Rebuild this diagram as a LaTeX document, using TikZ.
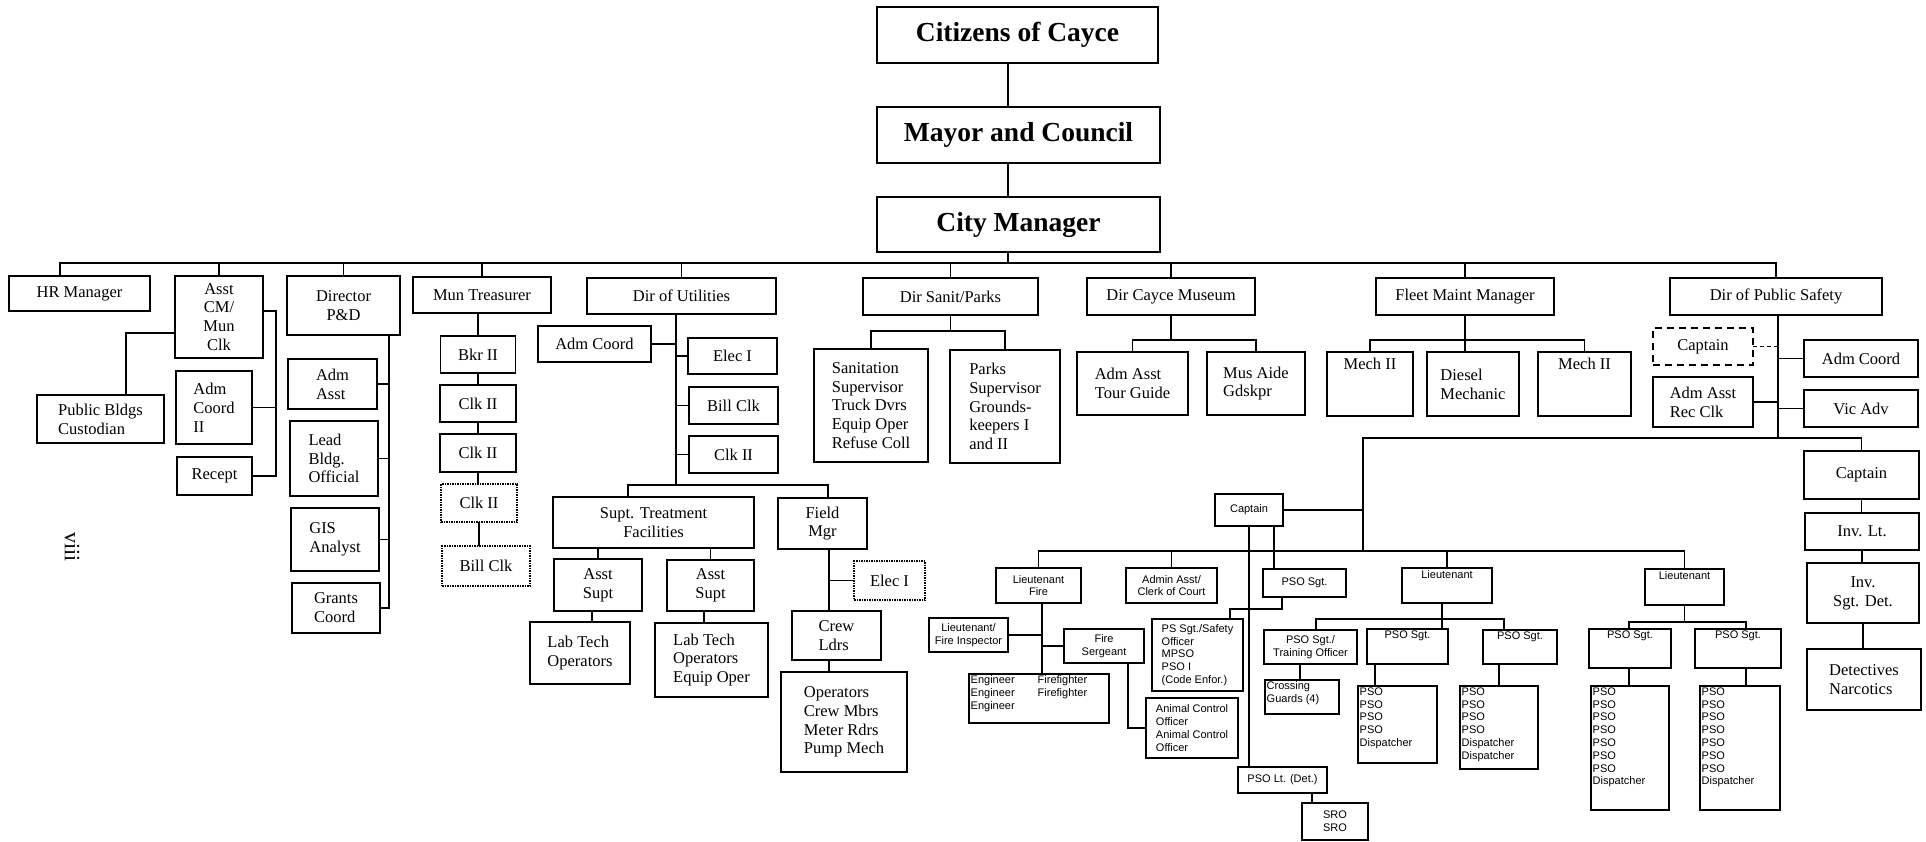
\documentclass[tikz,border=0pt]{standalone}
\usepackage{fontspec}
\setmainfont{Liberation Serif}
\newfontfamily\arialfont{Liberation Sans}
\newcommand\boxfont{\fontsize{16.5}{18.8}\selectfont}
\newcommand\titlefont{\fontsize{27.5}{31}\selectfont\bfseries}
\newcommand\policefont{\arialfont\fontsize{11}{12.8}\selectfont}
\tikzset{
  box/.style 2 args={draw, line width=1.5pt, outer sep=0pt, inner sep=2pt,
    align=center, minimum width=#1pt, minimum height=#2pt},
  dotbox/.style 2 args={box={#1}{#2}, densely dotted},
  dashbox/.style 2 args={box={#1}{#2}, dash pattern=on 7pt off 5pt},
  toptxt/.style={label={[anchor=north, align=center, inner sep=2pt]north:{#1}}},
  toptxtb/.style={label={[anchor=north, align=center, inner sep=6pt]north:{#1}}},
  topleft/.style={label={[anchor=north west, align=left, inner sep=1.5pt]north west:{#1}}},
  link/.style={line width=1.5pt},
}
\begin{document}
\begin{tikzpicture}[x=1pt, y=-1pt, font=\boxfont]
  \fill[white] (0,0) rectangle (1926,842);
  % top of the chart
  \node[box={281}{56}, font=\titlefont] (cit) at (1017.5,35) {Citizens of Cayce};
  \node[box={283}{56}, font=\titlefont] (may) at (1018.5,135) {Mayor and Council};
  \node[box={283}{55}, font=\titlefont] (cm) at (1018.5,224.5) {City Manager};
  % department heads
  \node[box={141}{35}] (hr) at (79.5,293.5) {HR Manager};
  \node[box={88}{82}] (acm) at (219,317) {Asst\\CM/\\Mun\\Clk};
  \node[box={113}{59}] (dpd) at (343.5,305.5) {Director\\P\&D};
  \node[box={138}{36}] (mt) at (482,295) {Mun Treasurer};
  \node[box={189}{36}] (du) at (681.5,296) {Dir of Utilities};
  \node[box={175}{37}] (dsp) at (950.5,296.5) {Dir Sanit/Parks};
  \node[box={168}{37}] (dcm) at (1171,296.5) {Dir Cayce Museum};
  \node[box={178}{37}] (fmm) at (1465,296.5) {Fleet Maint Manager};
  \node[box={212}{37}] (dps) at (1776,296.5) {Dir of Public Safety};
  % asst cm and p&d
  \node[box={127}{48}, align=left] (pbc) at (100.5,419) {Public Bldgs\\Custodian};
  \node[box={76}{73}, align=left] (acii) at (214,407.5) {Adm\\Coord\\II};
  \node[box={75}{38}] (rec) at (214.5,476) {Recept};
  \node[box={89}{50}, align=left] (adma) at (332.5,384) {Adm\\Asst};
  \node[box={88}{75}, align=left] (lbo) at (334,458.5) {Lead\\Bldg.\\Official};
  \node[box={88}{63}, align=left] (gis) at (335,539.5) {GIS\\Analyst};
  \node[box={88}{50}, align=left] (gc) at (336,608) {Grants\\Coord};
  % treasurer
  \node[box={75}{37}] (bk) at (478,354.5) {Bkr II};
  \node[box={76}{37}] (c1) at (478,403.5) {Clk II};
  \node[box={76}{38}] (c2) at (478,453) {Clk II};
  \node[dotbox={76}{38}] (c3) at (479,503) {Clk II};
  \node[dotbox={88}{40}] (bc) at (486,566) {Bill Clk};
  % utilities
  \node[box={113}{36}] (uac) at (594.5,344) {Adm Coord};
  \node[box={89}{36}] (ue1) at (732.5,356) {Elec I};
  \node[box={89}{37}] (ubc) at (733.5,405.5) {Bill Clk};
  \node[box={89}{37}] (uc2) at (733.5,454.5) {Clk II};
  \node[box={201}{51}] (stf) at (653.5,522.5) {Supt. Treatment\\Facilities};
  \node[box={89}{51}] (fm) at (822.5,523.5) {Field\\Mgr};
  \node[box={88}{52}] (as1) at (598,585) {Asst\\Supt};
  \node[box={87}{51}] (as2) at (710.5,585.5) {Asst\\Supt};
  \node[box={100}{62}, align=left] (ltop1) at (580,653) {Lab Tech\\Operators};
  \node[box={113}{74}, align=left] (ltop2) at (711.5,660) {Lab Tech\\Operators\\Equip Oper};
  \node[dotbox={71}{39}] (fe1) at (889.5,580.5) {Elec I};
  \node[box={89}{49}, align=left] (cl) at (836.5,635.5) {Crew\\Ldrs};
  \node[box={126}{100}, align=left] (ops) at (844,722) {Operators\\Crew Mbrs\\Meter Rdrs\\Pump Mech};
  % sanitation, museum, fleet
  \node[box={114}{113}, align=left] (san) at (871,405.5) {Sanitation\\Supervisor\\Truck Dvrs\\Equip Oper\\Refuse Coll};
  \node[box={110}{113}, align=left] (prk) at (1005,406.5) {Parks\\Supervisor\\Grounds-\\keepers I\\and II};
  \node[box={111}{63}, align=left] (aatg) at (1132.5,383.5) {Adm Asst\\Tour Guide};
  \node[box={98}{63}, align=left] (mag) at (1256,383.5) {Mus Aide\\Gdskpr};
  \node[box={86}{64}, toptxtb={Mech II}] (m1) at (1370,384) {};
  \node[box={92}{64}, align=left] (dm) at (1473,384) {Diesel\\Mechanic};
  \node[box={93}{64}, toptxtb={Mech II}] (m2) at (1584.5,384) {};
  % public safety
  \node[dashbox={100}{37}] (cpd) at (1703,346.5) {Captain};
  \node[box={114}{37}] (aac) at (1861,358.5) {Adm Coord};
  \node[box={100}{50}, align=left] (aarc) at (1703,402) {Adm Asst\\Rec Clk};
  \node[box={114}{37}] (va) at (1861,408.5) {Vic Adv};
  \node[box={115}{48}] (cpr) at (1861.5,475) {Captain};
  \node[box={114}{37}] (ilt) at (1862,531.5) {Inv. Lt.};
  \node[box={112}{60}] (isd) at (1863,593) {Inv.\\Sgt. Det.};
  \node[box={114}{61}, align=left] (det) at (1864,679.5) {Detectives\\Narcotics};
  \node[rotate=-90, font=\fontsize{22}{24}\selectfont] (pg) at (72,547) {viii};
  \begin{scope}[font=\policefont]
    \node[box={68}{32}] (cpp) at (1249,510) {Captain};
    \node[box={85}{35}] (ltf) at (1038.5,585.5) {Lieutenant\\Fire};
    \node[box={91}{35}] (aacc) at (1171.5,585.5) {Admin Asst/\\Clerk of Court};
    \node[box={83}{28}] (psa) at (1304.5,583) {PSO Sgt.};
    \node[box={91}{72}, align=left] (pss) at (1197.5,655) {PS Sgt./Safety\\Officer\\MPSO\\PSO I\\(Code Enfor.)};
    \node[box={79}{34}] (lfi) at (968.5,635) {Lieutenant/\\Fire Inspector};
    \node[box={80}{34}] (fs) at (1104,646) {Fire\\Sergeant};
    \node[box={140}{49}, topleft={\makebox[67pt][l]{Engineer}Firefighter\\
      \makebox[67pt][l]{Engineer}Firefighter\\Engineer}] (eng) at (1039,698.5) {};
    \node[box={92}{60}, align=left] (acf) at (1192,728) {Animal Control\\Officer\\Animal Control\\Officer};
    \node[box={89}{26}] (pld) at (1282.5,780) {PSO Lt. (Det.)};
    \node[box={66}{37}, align=left] (sro) at (1335,821.5) {SRO\\SRO};
    \node[box={90}{35}, toptxt={Lieutenant}] (lt2) at (1447,585.5) {};
    \node[box={93}{34}] (pto) at (1310.5,647) {PSO Sgt./\\Training Officer};
    \node[box={81}{35}, toptxt={PSO Sgt.}] (ps2) at (1407.5,646.5) {};
    \node[box={74}{34}, toptxt={PSO Sgt.}] (ps3) at (1520,647) {};
    \node[box={74}{34}, topleft={Crossing\\Guards (4)}] (cg) at (1302,697) {};
    \node[box={79}{77}, topleft={PSO\\PSO\\PSO\\PSO\\Dispatcher}] (pl1) at (1397.5,724.5) {};
    \node[box={78}{83}, topleft={PSO\\PSO\\PSO\\PSO\\Dispatcher\\Dispatcher}] (pl2) at (1499,727.5) {};
    \node[box={79}{36}, toptxt={Lieutenant}] (lt3) at (1684.5,587) {};
    \node[box={82}{39}, toptxt={PSO Sgt.}] (ps4) at (1630,648.5) {};
    \node[box={86}{39}, toptxt={PSO Sgt.}] (ps5) at (1738,648.5) {};
    \node[box={78}{124}, topleft={PSO\\PSO\\PSO\\PSO\\PSO\\PSO\\PSO\\Dispatcher}] (pl3) at (1630,748) {};
    \node[box={80}{124}, topleft={PSO\\PSO\\PSO\\PSO\\PSO\\PSO\\PSO\\Dispatcher}] (pl4) at (1740,748) {};
  \end{scope}
  % connectors
  \begin{scope}[link]
    \coordinate (spine) at (1008,0);
    \draw (cit.south -| spine) -- (may.north -| spine);
    \draw (may.south -| spine) -- (cm.north -| spine);
    \coordinate (bus) at (60,263);
    \draw (cm.south -| spine) -- (spine |- bus);
    \draw (bus |- hr.north) -- (bus) -- (bus -| dps.north) -- (dps.north);
    \foreach \n in {acm,dpd,mt,du,dsp,dcm,fmm}
      \draw (\n.north) -- (\n.north |- bus);
    % asst cm
    \draw (acm.west |- 0,333) -| (pbc.north -| 126,0);
    \coordinate (acmr) at (276,311);
    \draw (acm.east |- acmr) -- (acmr) |- (rec.east);
    \draw (acmr |- acii.east) -- (acii.east);
    % p&d
    \coordinate (pdx) at (389,335);
    \draw (dpd.south -| pdx) -- (pdx |- gc.east) -- (gc.east);
    \foreach \n in {adma,lbo,gis}
      \draw (pdx |- \n.east) -- (\n.east);
    % treasurer
    \draw (bk.north) -- (bk.north |- mt.south);
    \draw (bk) -- (c1) -- (c2);
    \draw (c2.south) -- (c2.south |- c3.north);
    \draw (c3.south) -- (c3.south |- bc.north);
    % utilities
    \coordinate (ux) at (676,485);
    \draw (du.south -| ux) -- (ux);
    \draw (ux |- uac.east) -- (uac.east);
    \foreach \n in {ue1,ubc,uc2}
      \draw (ux |- \n.west) -- (\n.west);
    \draw (stf.north -| 628,0) |- (ux) -| (fm.north -| 828,0);
    \draw (as1.north) -- (as1.north |- stf.south);
    \draw (as2.north) -- (as2.north |- stf.south);
    \draw (ltop1.north -| 592,0) -- (as1.south -| 592,0);
    \draw (ltop2.north -| 704,0) -- (as2.south -| 704,0);
    \coordinate (fx) at (829,0);
    \draw (fm.south -| fx) -- (cl.north -| fx);
    \draw (fx |- fe1.west) -- (fe1.west);
    \draw (cl.south -| fx) -- (ops.north -| fx);
    % sanitation, museum, fleet
    \draw (dsp.south) -- (dsp.south |- 0,331);
    \draw (san.north) |- (prk.north |- 0,331) -- (prk.north);
    \draw (dcm.south) -- (dcm.south |- 0,340);
    \draw (aatg.north) |- (mag.north |- 0,340) -- (mag.north);
    \draw (fmm.south) -- (fmm.south |- dm.north);
    \draw (m1.north) |- (m2.north |- 0,340) -- (m2.north);
    % public safety
    \coordinate (dx) at (1778,438);
    \coordinate (pb) at (1363,551);
    \draw (dps.south -| dx) -- (dx);
    \draw[dash pattern=on 4pt off 3pt] (dx |- cpd.east) -- (cpd.east);
    \draw (dx |- aarc.east) -- (aarc.east);
    \foreach \n in {aac,va}
      \draw (dx |- \n.west) -- (\n.west);
    \draw (pb) |- (dx) -| (cpr.north);
    \foreach \a/\b in {cpr/ilt,ilt/isd,isd/det}
      \draw (\a.south) -- (\a.south |- \b.north);
    \draw (cpp.east) -- (cpp.east -| pb);
    \draw (ltf.north) |- (pb) -| (lt3.north);
    \draw (aacc.north) -- (aacc.north |- pb);
    \draw (lt2.north) -- (lt2.north |- pb);
    \draw (cpp.south) -- (cpp.south |- pld.north);
    \draw (cpp.south -| 1274,0) -- (psa.north -| 1274,0);
    \draw (psa.south -| 1282,0) |- (1230,609) -- (pss.north -| 1230,0);
    \draw (pld.south -| 1312,0) -- (sro.north -| 1312,0);
    % fire
    \coordinate (fx2) at (1042,0);
    \draw (ltf.south -| fx2) -- (eng.north -| fx2);
    \draw (lfi.east) -- (lfi.east -| fx2);
    \draw (fs.west) -- (fs.west -| fx2);
    \draw (fs.south -| 1128,0) |- (acf.west);
    % lieutenants
    \draw (lt2.south -| 1442,0) -- (ps2.north -| 1442,0);
    \draw (pto.north -| 1316,0) |- (1504,619) -- (ps3.north -| 1504,0);
    \draw (pto.south -| 1300,0) -- (cg.north -| 1300,0);
    \draw (ps2.south -| 1375,0) -- (pl1.north -| 1375,0);
    \draw (ps3.south -| 1499,0) -- (pl2.north -| 1499,0);
    \draw (lt3.south) -- (lt3.south |- 0,622);
    \draw (ps4.north -| 1629,0) |- (1746,622) -- (ps5.north -| 1746,0);
    \draw (ps4.south -| 1629,0) -- (pl3.north -| 1629,0);
    \draw (ps5.south -| 1746,0) -- (pl4.north -| 1746,0);
  \end{scope}
\end{tikzpicture}
\end{document}
